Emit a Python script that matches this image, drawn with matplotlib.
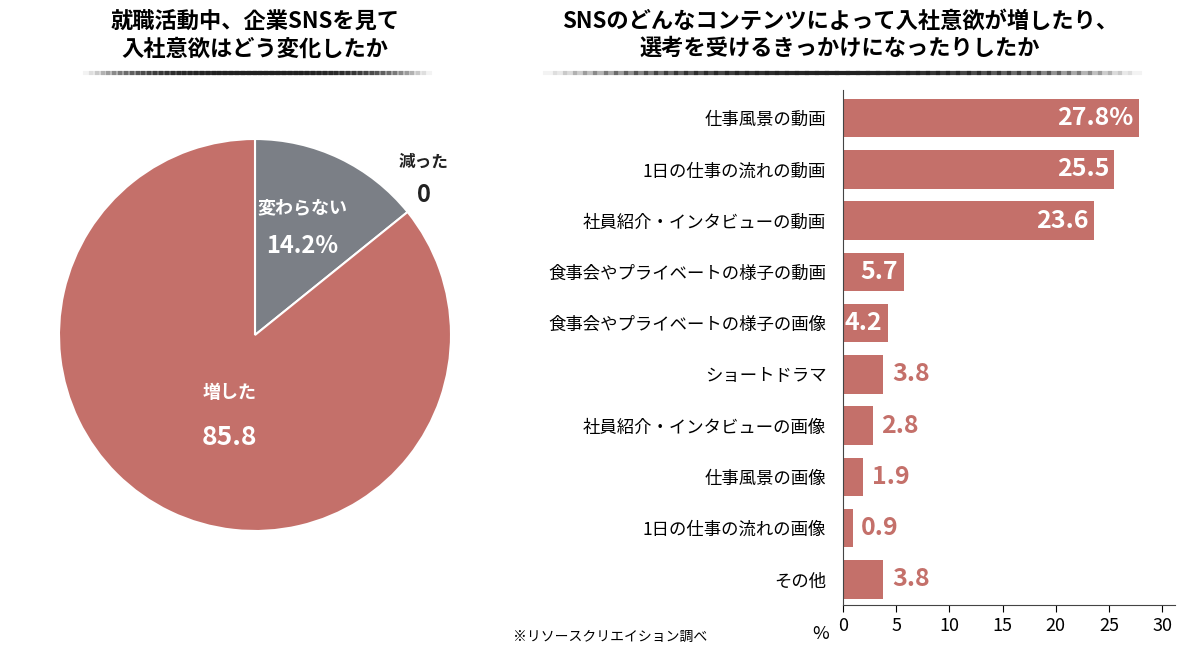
import matplotlib.pyplot as plt
import numpy as np

plt.rcParams['font.family'] = ['Noto Sans CJK JP', 'DejaVu Sans']

pie_labels = ['変わらない', '増した']
pie_values = [14.2, 85.8]
pie_texts = ['14.2%', '85.8']

bar_labels = ['仕事風景の動画', '1日の仕事の流れの動画', '社員紹介・インタビューの動画',
              '食事会やプライベートの様子の動画', '食事会やプライベートの様子の画像',
              'ショートドラマ', '社員紹介・インタビューの画像', '仕事風景の画像',
              '1日の仕事の流れの画像', 'その他']
bar_values = [27.8, 25.5, 23.6, 5.7, 4.2, 3.8, 2.8, 1.9, 0.9, 3.8]
bar_texts = ['27.8%', '25.5', '23.6', '5.7', '4.2', '3.8', '2.8', '1.9', '0.9', '3.8']

red = '#c4706a'
gray = '#7b7f86'

fig = plt.figure(figsize=(12, 6.57), dpi=100)

# pie
W, H = 1200, 657
axp = fig.add_axes([10 / W, 1 - 580 / H, 490 / W, 490 / H])
axp.pie(pie_values, colors=[gray, red], startangle=90, counterclock=False,
        wedgeprops=dict(edgecolor='white', linewidth=1.5))
axp.set_aspect('equal')
axp.text(0.24, 0.62, pie_labels[0], color='white', ha='center', fontsize=13, fontweight='bold')
axp.text(0.24, 0.42, pie_texts[0], color='white', ha='center', fontsize=17, fontweight='bold')
axp.text(-0.13, -0.32, pie_labels[1], color='white', ha='center', fontsize=13, fontweight='bold')
axp.text(-0.13, -0.56, pie_texts[1], color='white', ha='center', fontsize=19, fontweight='bold')
axp.text(0.86, 0.86, '減った', color='#222', ha='center', fontsize=12, fontweight='bold')
axp.text(0.86, 0.68, '0', color='#222', ha='center', fontsize=17, fontweight='bold')

# bars
axb = fig.add_axes([843 / W, 1 - 605 / H, 332 / W, 515 / H])
y = np.arange(len(bar_values))
axb.barh(y, bar_values, height=0.75, color=red)
axb.set_ylim(len(bar_values) - 0.5, -0.55)
axb.set_xlim(0, 31.2)
axb.set_xticks([0, 5, 10, 15, 20, 25, 30])
axb.set_yticks(y)
axb.set_yticklabels(bar_labels, fontsize=12.5)
axb.tick_params(axis='y', length=0, pad=12)
axb.tick_params(axis='x', labelsize=13, length=5)
for s in ['top', 'right']:
    axb.spines[s].set_visible(False)
axb.spines['left'].set_color('#444')
axb.spines['bottom'].set_color('#444')
for i, (v, t) in enumerate(zip(bar_values, bar_texts)):
    if i < 5:
        axb.text(v - 0.5, i, t, color='white', ha='right', va='center', fontsize=18, fontweight='bold')
    else:
        axb.text(v + 0.8, i, t, color=red, ha='left', va='center', fontsize=18, fontweight='bold')
fig.text(812 / W, 1 - 634 / H, '%', fontsize=13, va='center')

# titles
fig.text(255 / W, 1 - 35 / H, '就職活動中、企業SNSを見て\n入社意欲はどう変化したか',
         ha='center', va='center', fontsize=16, fontweight='bold', linespacing=1.25)
fig.text(840 / W, 1 - 35 / H, 'SNSのどんなコンテンツによって入社意欲が増したり、\n選考を受けるきっかけになったりしたか',
         ha='center', va='center', fontsize=16, fontweight='bold', linespacing=1.25)
for x0, x1 in [(85, 430), (545, 1140)]:
    xs = np.linspace(x0, x1, 60)
    for a, b in zip(xs[:-1], xs[1:]):
        m = (a + b) / 2
        d = abs(m - (x0 + x1) / 2) / ((x1 - x0) / 2)
        fig.add_artist(plt.Line2D([a / W, b / W], [1 - 73 / H] * 2, color='#222',
                                  alpha=max(0.05, 1 - d ** 2), linewidth=3))

fig.text(610 / W, 1 - 637 / H, '※リソースクリエイション調べ', ha='center', va='center',
         fontsize=10)

fig.savefig('out.png', dpi=100)
